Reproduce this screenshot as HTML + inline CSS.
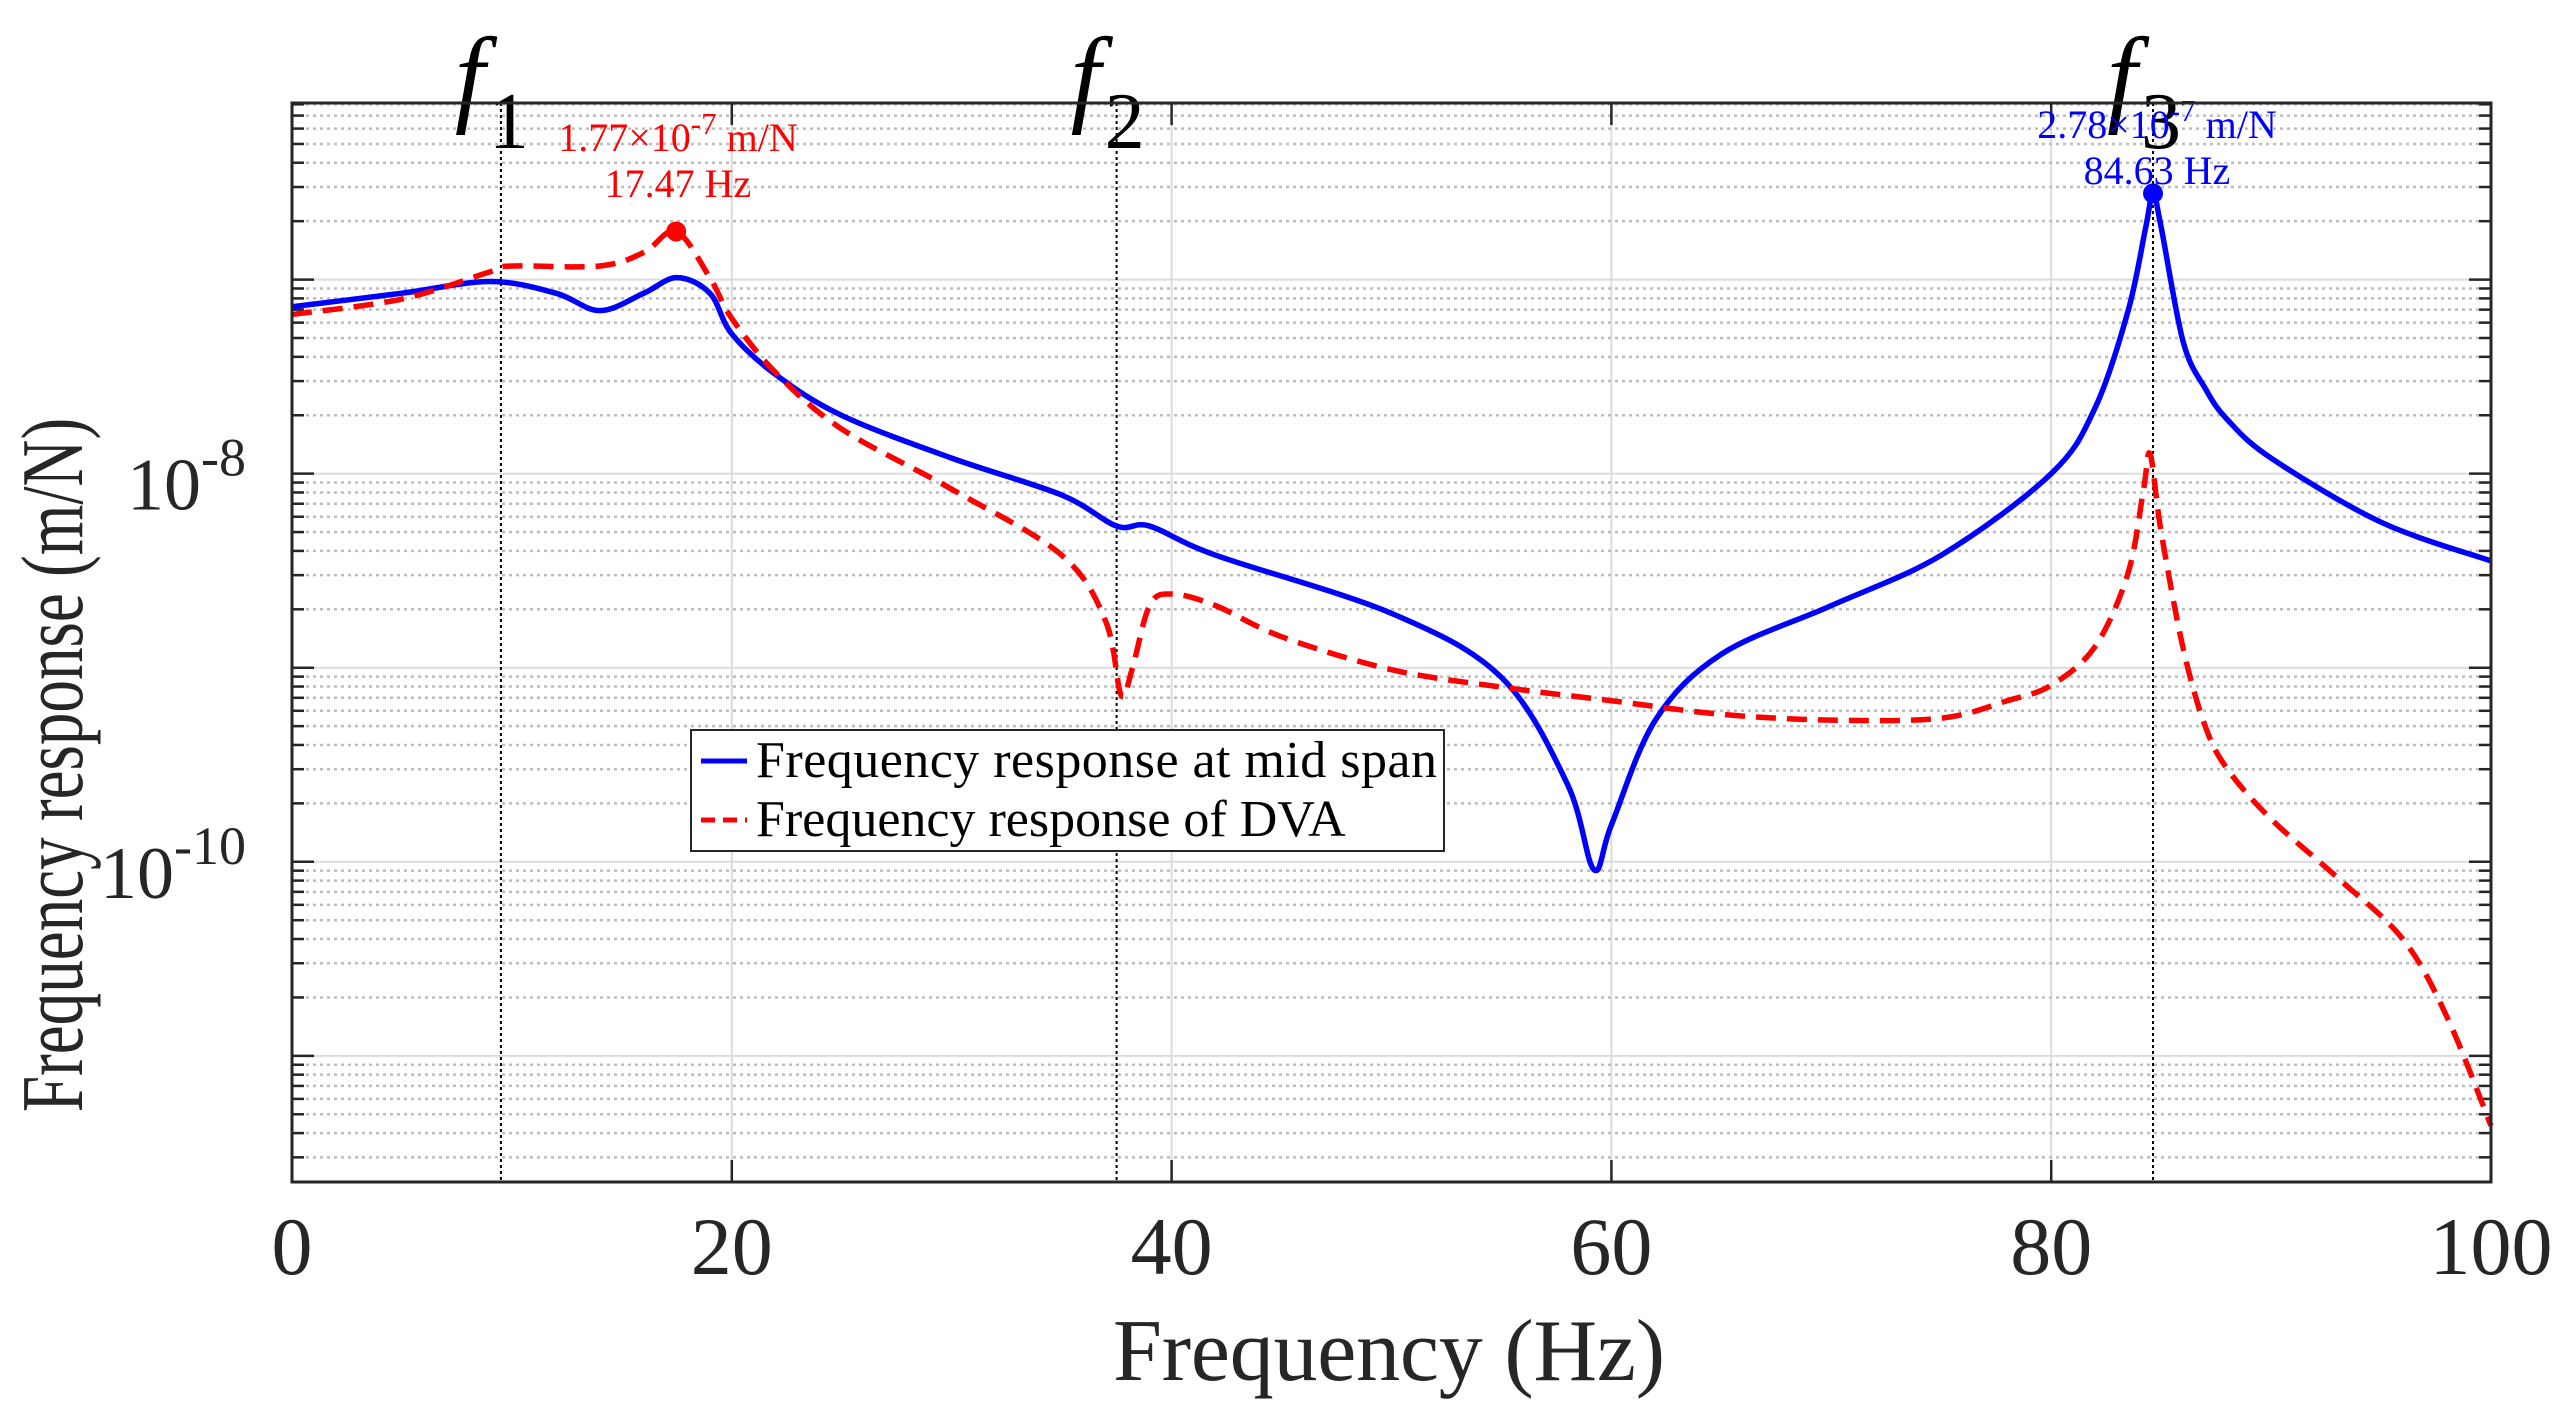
<!DOCTYPE html>
<html><head><meta charset="utf-8"><style>
body{margin:0;background:#fff}
svg{display:block}
text{font-family:"Liberation Serif",serif}
</style></head><body>
<svg id="chart" width="2566" height="1413" xmlns="http://www.w3.org/2000/svg"></svg>
<script>
const blueX=[0,5,9,12,14,16,17.5,19,20,22,25,30,35,37.5,39,42,50,55,58,59.2,60,62,65,70,75,80,82,83.5,84.3,84.63,85,86,87,88,90,95,100];
const blueY=[-7.14,-7.07,-7.01,-7.07,-7.16,-7.07,-6.99,-7.07,-7.28,-7.49,-7.70,-7.92,-8.11,-8.27,-8.27,-8.42,-8.72,-9.05,-9.60,-10.04,-9.81,-9.27,-8.93,-8.68,-8.42,-8.0,-7.66,-7.16,-6.73,-6.556,-6.73,-7.32,-7.56,-7.72,-7.92,-8.25,-8.45];
const redX=[0,5,9,10,14,16,17.47,19,20,22,25,30,35,37,37.7,38.2,39,40,42,45,50,55,60,65,70,75,78,80,82,83.5,84.2,84.5,85,86,87,88,90,93,96,98,100];
const redY=[-7.18,-7.10,-6.96,-6.93,-6.93,-6.86,-6.752,-6.99,-7.20,-7.48,-7.77,-8.08,-8.42,-8.76,-9.14,-9.01,-8.68,-8.62,-8.68,-8.84,-9.01,-9.10,-9.17,-9.24,-9.27,-9.26,-9.17,-9.09,-8.89,-8.51,-8.08,-7.90,-8.30,-8.90,-9.30,-9.52,-9.78,-10.08,-10.40,-10.80,-11.36];
const xTicks=[0,20,40,60,80,100];
const yDecades=[-12,-11,-10,-9,-8,-7,-6];
const yTickLabels=["-8","-10"];
const yTickValues=[-8,-10];
const modeFreqs=[9.5,37.5,84.63];
const modeLabels=["1","2","3"];
const peakRed=[17.47,1.77e-7];
const peakBlue=[84.63,2.78e-7];

const NS="http://www.w3.org/2000/svg";
const svg=document.getElementById('chart');
const L=292,R=2491,T=103,B=1182;
const yTop=-6.09,yBot=-11.65;
const xs=v=>L+(v/100)*(R-L);
const ys=lg=>T+(yTop-lg)/(yTop-yBot)*(B-T);
function el(tag,attrs,parent){const e=document.createElementNS(NS,tag);for(const k in attrs)e.setAttribute(k,attrs[k]);(parent||svg).appendChild(e);return e;}

const grid=el('g',{});


xTicks.forEach(t=>{if(t>0&&t<100)el('line',{x1:xs(t),x2:xs(t),y1:T,y2:B,stroke:'#dcdcdc','stroke-width':2},grid);});
yDecades.forEach(d=>{
  for(let m=1;m<10;m++){
    const lg=d+Math.log10(m);
    if(lg>yTop||lg<yBot)continue;
    const y=ys(lg);
    if(m===1){el('line',{x1:L,x2:R,y1:y,y2:y,stroke:'#dcdcdc','stroke-width':2},grid);
      el('line',{x1:L,x2:L+22,y1:y,y2:y,stroke:'#262626','stroke-width':2.5},grid);
      el('line',{x1:R,x2:R-22,y1:y,y2:y,stroke:'#262626','stroke-width':2.5},grid);}
    else{el('line',{x1:L,x2:R,y1:y,y2:y,stroke:'#bdbdbd','stroke-width':2.5,'stroke-dasharray':'3 4'},grid);
      el('line',{x1:L,x2:L+12,y1:y,y2:y,stroke:'#262626','stroke-width':2.5},grid);
      el('line',{x1:R,x2:R-12,y1:y,y2:y,stroke:'#262626','stroke-width':2.5},grid);}
  }
});
xTicks.forEach(t=>{
  el('line',{x1:xs(t),x2:xs(t),y1:B,y2:B-22,stroke:'#262626','stroke-width':2.5},grid);
  el('line',{x1:xs(t),x2:xs(t),y1:T,y2:T+22,stroke:'#262626','stroke-width':2.5},grid);
  const tx=el('text',{x:xs(t),y:1274,'font-size':82,'text-anchor':'middle',fill:'#262626'});
  tx.textContent=t;
  
  
});
yTickValues.forEach((d,i)=>{
  const tx=el('text',{x:246,y:ys(d)+36,'font-size':74,'text-anchor':'end',fill:'#262626'});
  tx.innerHTML='10<tspan dy="-34" font-size="54">'+yTickLabels[i]+'</tspan>';
  
  
});

modeFreqs.forEach((f,i)=>{
  const ln=el('line',{x1:xs(f),x2:xs(f),y1:T,y2:B,stroke:'#000','stroke-width':2,'stroke-dasharray':'3 3'});
  
  
  const tx=el('text',{x:xs(f)-46,y:112,'font-size':108,fill:'#000','font-style':'italic'});
  tx.innerHTML='f<tspan dy="36" dx="4" font-style="normal" font-size="80">'+modeLabels[i]+'</tspan>';
  
  
});

function pathFrom(X,Y){
  const p=X.map((x,i)=>[xs(x),ys(Y[i])]);
  let d='M'+p[0][0]+','+p[0][1];
  for(let i=0;i<p.length-1;i++){
    const p0=p[Math.max(0,i-1)],p1=p[i],p2=p[i+1],p3=p[Math.min(p.length-1,i+2)];
    const c1=[p1[0]+(p2[0]-p0[0])/6,p1[1]+(p2[1]-p0[1])/6];
    const c2=[p2[0]-(p3[0]-p1[0])/6,p2[1]-(p3[1]-p1[1])/6];
    d+=' C'+c1+' '+c2+' '+p2;
  }
  return d;
}
const bp=el('path',{d:pathFrom(blueX,blueY),fill:'none',stroke:'#0000ff','stroke-width':5.5});


const rp=el('path',{d:pathFrom(redX,redY),fill:'none',stroke:'#ff0000','stroke-width':5.5,'stroke-dasharray':'20 11'});



const rc=el('circle',{cx:xs(peakRed[0]),cy:ys(Math.log10(peakRed[1])),r:10,fill:'#ff0000'});


const bc=el('circle',{cx:xs(peakBlue[0]),cy:ys(Math.log10(peakBlue[1])),r:10,fill:'#0000ff'});


function annot(x,y,col,val,hz,name){
  const t1=el('text',{x:x,y:y,'font-size':40,'text-anchor':'middle',fill:col});
  t1.innerHTML=val+'×10<tspan dy="-17" font-size="31">-7</tspan><tspan dy="17"> m/N</tspan>';
  
  
  const t2=el('text',{x:x,y:y+46,'font-size':40,'text-anchor':'middle',fill:col});
  t2.textContent=hz+' Hz';
  
  
}
annot(678,151,'#ff0000','1.77','17.47','dva-peak');
annot(2157,138,'#0000ff','2.78','84.63','mid-span-peak');

const box=el('rect',{x:L,y:T,width:R-L,height:B-T,fill:'none',stroke:'#262626','stroke-width':3});



const lg=el('g',{});


el('rect',{x:691,y:730,width:753,height:121,fill:'#fff',stroke:'#262626','stroke-width':2},lg);
el('line',{x1:701,x2:747,y1:761,y2:761,stroke:'#0000ff','stroke-width':5},lg);
el('line',{x1:701,x2:747,y1:820,y2:820,stroke:'#ff0000','stroke-width':5,'stroke-dasharray':'14 8'},lg);
const l1=el('text',{x:756,y:777,'font-size':52,fill:'#000',textLength:681},lg);l1.textContent='Frequency response at mid span';


const l2=el('text',{x:756,y:836,'font-size':52,fill:'#000'},lg);l2.textContent='Frequency response of DVA';



const xt=el('text',{x:1389,y:1380,'font-size':88,'text-anchor':'middle',fill:'#262626',textLength:552});
xt.textContent='Frequency (Hz)';


const yt=el('text',{x:0,y:0,'font-size':88,'text-anchor':'middle',fill:'#262626',transform:'translate(82,765) rotate(-90) scale(0.74,1)'});
yt.textContent='Frequency response (m/N)';


</script>
</body></html>
